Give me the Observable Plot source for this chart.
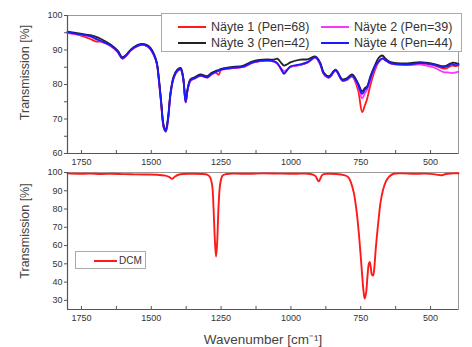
<!DOCTYPE html>
<html><head><meta charset="utf-8">
<script src="https://cdn.jsdelivr.net/npm/d3@7"></script>
<script src="https://cdn.jsdelivr.net/npm/@observablehq/plot@0.6"></script>
<style>
body{margin:0;background:#fff;font-family:"Liberation Sans",Arial,sans-serif;}
#wrap{position:relative;width:472px;height:347px;overflow:hidden;background:#fff;}
.panel{position:absolute;left:0;}
.legend{position:absolute;background:#fff;border:1px solid #aaa;box-sizing:border-box;color:#333;}
.item{position:absolute;display:flex;align-items:center;white-space:nowrap;}
.sw{display:inline-block;height:2px;}
</style></head>
<body><div id="wrap"></div>
<script>
// ---- data ----
const seriesNames = ["Näyte 1 (Pen=68)", "Näyte 2 (Pen=39)", "Näyte 3 (Pen=42)", "Näyte 4 (Pen=44)"];
const seriesColors = ["#ff1a1a", "#ff33ff", "#222222", "#1a1aff"];
const wn = [1800,1760,1718,1700,1680,1646,1620,1604,1590,1574,1550,1533,1515,1503,1490,1480,1473,1465,1455,1448,
  1440,1431,1420,1407,1395,1386,1377,1370,1360,1345,1324,1300,1285,1270,1259,1250,1216,1170,1134,1085,
  1060,1049,1035,1025,1015,1002,966,940,912,895,882,864,840,816,800,781,760,745,735,727,
  715,697,685,673,660,643,584,536,490,453,440,423,410,400];
const t1 = [95.0,94.4,93.2,92.5,92.4,91.2,89.4,87.5,88.3,89.8, 91.1,91.5,91.1,90.2,88.4,85.9,81.3,74.8,67.3,66.3,
  69.8,77.2,81.8,83.8,84.3,81.8,74.8,78.3,81.0,81.8, 82.6,82.1,82.9,83.5,82.8,84.2,84.7,85.1,86.4,86.9,
  86.6,86.1,84.3,83.3,84.1,85.1,85.7,86.4,87.8,85.8, 83.0,82.0,84.0,81.1,81.3,82.3,78.5,72.0,74.0,75.9,
  80.0,84.6,86.6,87.5,86.9,86.1,85.7,86.1,85.6,84.6, 84.8,85.5,85.3,85.5];
const t2 = [95.0,94.5,93.9,93.2,92.5,91.2,89.4,87.5,88.3,89.8, 91.1,91.5,91.1,90.2,88.4,85.9,81.4,74.9,67.4,66.4,
  69.9,77.3,81.9,83.9,84.4,81.9,74.8,78.4,81.1,81.7, 82.5,82.0,82.9,83.5,83.9,84.2,84.7,85.1,86.4,86.9,
  86.6,86.0,84.7,83.9,84.3,85.1,85.7,86.4,87.8,85.9, 83.0,82.0,84.0,81.1,81.4,82.5,79.5,76.0,77.5,78.5,
  81.5,85.2,86.6,87.5,86.9,86.1,85.6,85.8,85.0,83.6, 83.5,83.3,83.5,83.7];
const t3 = [95.3,94.8,94.3,93.9,93.2,91.6,89.8,87.9,88.6,90.1, 91.4,91.8,91.4,90.6,88.8,86.3,82.0,75.5,68.0,67.0,
  70.5,77.8,82.3,84.3,84.8,82.3,75.3,78.8,81.5,82.1, 82.9,82.4,83.3,83.9,84.2,84.5,85.0,85.5,86.8,87.3,
  87.2,87.5,86.3,85.5,85.8,86.4,87.2,87.3,88.1,86.3, 83.4,82.4,84.3,81.5,81.8,82.9,80.4,78.0,79.0,79.5,
  82.5,86.0,87.8,88.4,87.4,86.5,86.1,86.5,86.0,85.3, 85.6,86.3,86.2,86.0];
const t4 = [95.1,94.6,94.0,93.3,92.6,91.3,89.5,87.6,88.4,89.9, 91.2,91.6,91.2,90.3,88.5,86.0,81.5,75.0,67.5,66.5,
  70.0,77.4,82.0,84.0,84.5,82.0,74.9,78.5,81.2,81.8, 82.6,82.1,83.0,83.6,84.0,84.3,84.8,85.2,86.5,87.0,
  86.7,86.2,84.5,83.1,84.0,85.2,85.8,86.5,87.9,86.0, 83.1,82.1,84.1,81.2,81.5,82.6,80.0,77.3,78.5,79.2,
  82.0,85.5,86.8,87.6,87.0,86.2,85.8,86.2,85.8,85.0, 85.3,86.0,85.6,85.8];
const dcmName = "DCM";
const dcmWn = [1800,1760,1720,1680,1640,1600,1560,1520,1480,1450,1435,1425,1415,1400,1360,1320,1300,1290,1282,1277,
  1272,1268,1264,1259,1253,1245,1230,1200,1150,1100,1050,1000,960,930,912,905,900,895,887,870,
  840,810,795,785,775,765,757,750,745,740,736,731,726,721,718,714,710,706,702,697,
  691,685,679,670,661,650,632,600,560,520,490,470,459,445,420,400];
const dcmT = [99.5,99.3,99.4,99.2,99.3,99.1,99.0,98.9,98.8,98.3,97.5,96.5,97.8,98.9,99.3,99.2,98.8,97.5,93.0,80.0,
  62.0,54.0,62.0,82.0,94.0,98.3,99.2,99.4,99.3,99.5,99.4,99.3,99.4,99.2,98.0,96.0,95.2,96.5,98.8,99.3,
  99.2,98.6,97.5,94.5,89.0,79.0,67.0,54.0,44.0,35.0,31.0,34.0,43.0,50.0,51.0,48.0,44.0,43.7,47.0,57.0,
  67.0,76.0,83.8,90.5,94.7,97.5,99.3,99.5,99.3,99.4,99.1,98.6,98.5,99.2,99.5,99.6];
const xTicksMajor = [1750,1500,1250,1000,750,500];
const xTicksMinor = [1750,1625,1500,1375,1250,1125,1000,875,750,625,500];
const yTicksTop = [60,65,70,75,80,85,90,95,100];
const yLabelsTop = [60,70,80,90,100];
const yTicksBottom = [30,40,50,60,70,80,90,100];
const yTitle = "Transmission [%]";
const xTitle = "Wavenumber [cm⁻¹]";

// ---- build ----
const wrap = document.getElementById("wrap");
const tops = [t1, t2, t3, t4].map((arr, i) => wn.map((w, j) => ({wn: w, t: arr[j], s: seriesNames[i]})));
const dcm = dcmWn.map((w, j) => ({wn: w, t: dcmT[j]}));
const font = "Liberation Sans, Arial, sans-serif";

function panel({height, marginTop, marginBottom, yDomain, yTicks, yLabels, lines, xTitleOn, titleDy}) {
  const plotH = height - marginTop - marginBottom;
  return Plot.plot({
    width: 472, height, marginLeft: 67, marginRight: 14, marginTop, marginBottom,
    style: {fontFamily: font, color: "#333", background: "transparent", overflow: "visible"},
    x: {domain: [1800, 400]},
    y: {domain: yDomain},
    marks: [
      Plot.frame({stroke: "#999"}),
      ...lines,
      Plot.ruleX([1800], {stroke: "#555", strokeWidth: 1.2}),
      Plot.ruleY([yDomain[0]], {stroke: "#555", strokeWidth: 1.2}),
      Plot.tickX(xTicksMinor, {x: d => d, stroke: "#555", insetTop: plotH - 3}),
      Plot.axisX({ticks: xTicksMajor, tickSize: 0, tickPadding: 5, fontSize: 9, tickFormat: d => String(d),
        label: xTitleOn ? xTitle : null, labelAnchor: "center", labelOffset: 34, labelArrow: "none"}),
      Plot.axisY({ticks: yTicks, tickSize: 3, tickPadding: 2, fontSize: 9, stroke: "#555",
        tickFormat: d => yLabels.includes(d) ? String(d) : "", label: null}),
      Plot.text([yTitle], {frameAnchor: "left", textAnchor: "middle", rotate: -90, dx: -43, dy: titleDy, fontSize: 12.5, fill: "#444"})
    ]
  });
}

const topPlot = panel({
  height: 170, marginTop: 15, marginBottom: 17, yDomain: [60, 100], yTicks: yTicksTop, yLabels: yLabelsTop,
  lines: tops.map((d, i) => Plot.line(d, {x: "wn", y: "t", stroke: seriesColors[i], strokeWidth: 1.8, curve: "catmull-rom"})),
  xTitleOn: false, titleDy: -12
});
const botPlot = panel({
  height: 177, marginTop: 2, marginBottom: 38, yDomain: [25, 100], yTicks: yTicksBottom, yLabels: yTicksBottom,
  lines: [Plot.line(dcm, {x: "wn", y: "t", stroke: "#ff1a1a", strokeWidth: 1.9, curve: "catmull-rom"})],
  xTitleOn: true, titleDy: -10
});
topPlot.classList.add("panel"); topPlot.style.top = "0px";
botPlot.classList.add("panel"); botPlot.style.top = "170px";
wrap.appendChild(topPlot);
wrap.appendChild(botPlot);
botPlot.querySelectorAll("text").forEach(t => { if (t.textContent === xTitle) { t.setAttribute("font-size", "13.5"); t.style.fontSize = "13.5px"; t.setAttribute("fill", "#444"); } });

// legends
const lg = document.createElement("div");
lg.className = "legend";
Object.assign(lg.style, {left: "161px", top: "13px", width: "301px", height: "39px", fontSize: "12.5px"});
const pos = [[16, 6], [159, 6], [16, 22], [159, 22]];
seriesNames.forEach((n, i) => {
  const it = document.createElement("div");
  it.className = "item";
  Object.assign(it.style, {left: pos[i][0] + "px", top: pos[i][1] + "px", height: "14px"});
  it.innerHTML = `<span class="sw" style="width:28px;background:${seriesColors[i]};margin-right:5px"></span>${n}`;
  lg.appendChild(it);
});
wrap.appendChild(lg);

const lg2 = document.createElement("div");
lg2.className = "legend";
Object.assign(lg2.style, {left: "75px", top: "251px", width: "71px", height: "18px", fontSize: "10px"});
const it2 = document.createElement("div");
it2.className = "item";
Object.assign(it2.style, {left: "18px", top: "2px", height: "13px"});
it2.innerHTML = `<span class="sw" style="width:23px;background:#ff1a1a;margin-right:2px"></span>${dcmName}`;
lg2.appendChild(it2);
wrap.appendChild(lg2);
</script></body></html>
